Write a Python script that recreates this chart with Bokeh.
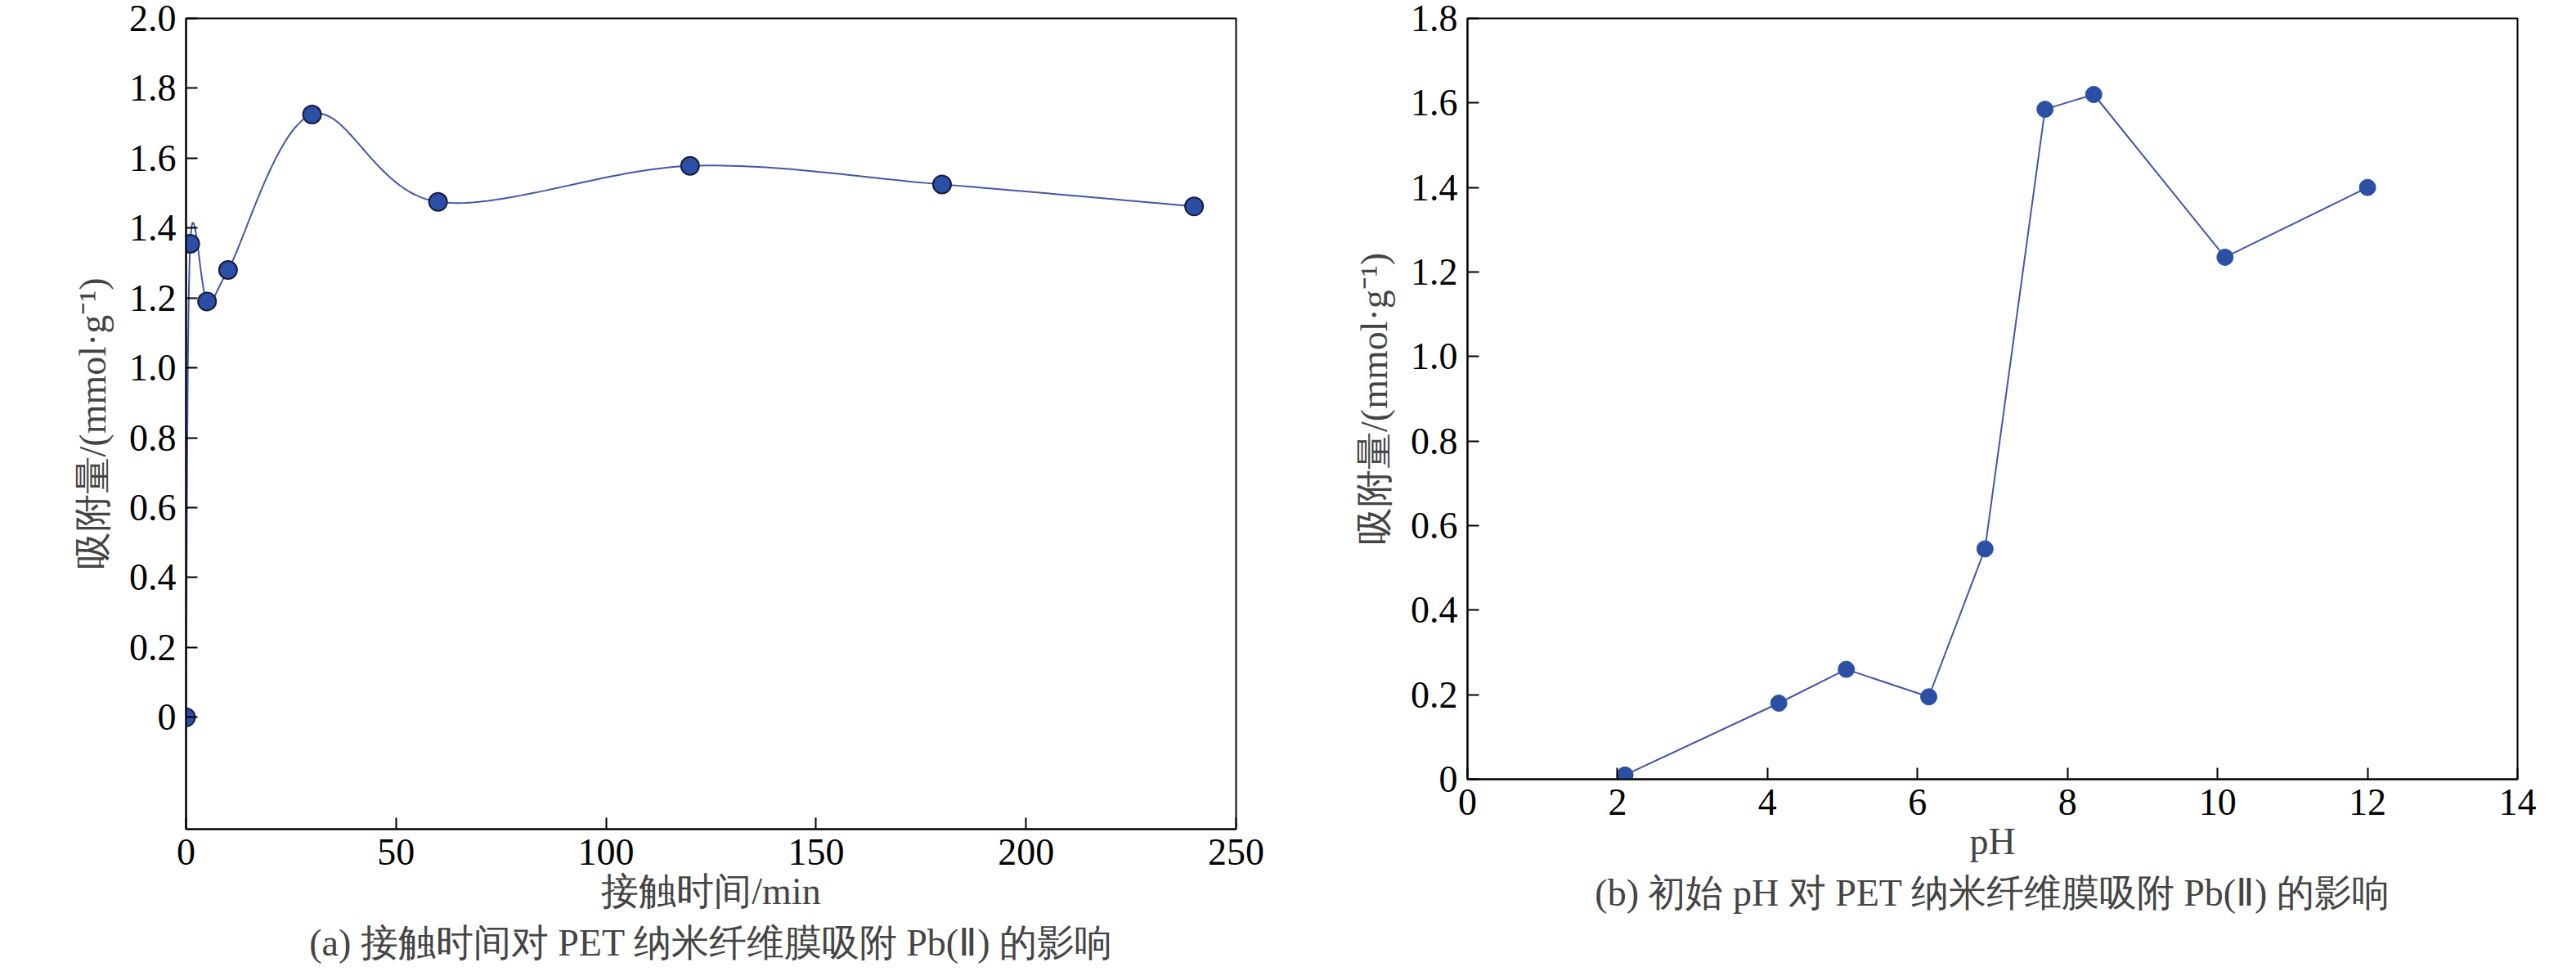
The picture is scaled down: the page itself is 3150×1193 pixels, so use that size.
import numpy as np
from bokeh.plotting import figure
from bokeh.layouts import row
from bokeh.models import FixedTicker, Range1d, Title
from bokeh.embed import file_html
from bokeh.resources import INLINE

t_min = [0, 1, 5, 10, 30, 60, 120, 180, 240]
q_t = [0.0, 1.355, 1.19, 1.28, 1.725, 1.475, 1.578, 1.525, 1.462]
ph = [2.1, 4.15, 5.05, 6.15, 6.9, 7.7, 8.35, 10.1, 12.0]
q_ph = [0.01, 0.18, 0.26, 0.195, 0.545, 1.585, 1.62, 1.235, 1.40]
yticks_a = [0, 0.2, 0.4, 0.6, 0.8, 1.0, 1.2, 1.4, 1.6, 1.8, 2.0]
yticks_b = [0, 0.2, 0.4, 0.6, 0.8, 1.0, 1.2, 1.4, 1.6, 1.8]

FONT = "Liberation Serif"
LINE = "#4058a8"
MARK = "#2c4fa6"

def smooth(x, y, n=30):
    x = np.asarray(x, float); y = np.asarray(y, float)
    xs, ys = [], []
    P = np.vstack([x, y]).T
    for i in range(len(P) - 1):
        p0 = P[i - 1] if i > 0 else P[i]
        p1, p2 = P[i], P[i + 1]
        p3 = P[i + 2] if i + 2 < len(P) else P[i + 1]
        for s in np.linspace(0, 1, n, endpoint=False):
            a = 0.5 * ((2 * p1) + (-p0 + p2) * s + (2 * p0 - 5 * p1 + 4 * p2 - p3) * s ** 2 + (-p0 + 3 * p1 - 3 * p2 + p3) * s ** 3)
            xs.append(a[0]); ys.append(a[1])
    xs.append(x[-1]); ys.append(y[-1])
    return xs, ys

def make(xr, yr, fw, fh, bb, xt, yt, xlabel, caption):
    p = figure(width=1567, height=1177, output_backend="svg", toolbar_location=None,
               x_range=Range1d(*xr), y_range=Range1d(*yr),
               frame_width=fw, frame_height=fh, min_border_left=227, min_border_top=22,
               min_border_right=56, min_border_bottom=bb)
    p.grid.visible = False
    p.outline_line_color = "black"
    p.outline_line_width = 2
    for ax in (p.xaxis, p.yaxis):
        ax.axis_line_width = 2
        ax.major_tick_in = 14
        ax.major_tick_out = 0
        ax.minor_tick_line_color = None
        ax.major_tick_line_width = 2
        ax.major_label_text_font = FONT
        ax.major_label_text_font_size = "46px"
        ax.major_label_text_color = "black"
        ax.axis_label_text_font = FONT
        ax.axis_label_text_font_size = "46px"
        ax.axis_label_text_font_style = "normal"
    p.xaxis.ticker = FixedTicker(ticks=xt)
    p.yaxis.ticker = FixedTicker(ticks=yt)
    p.yaxis.major_label_overrides = {v: ("0" if v == 0 else f"{v:.1f}") for v in yt}
    p.xaxis.major_label_standoff = 12
    p.yaxis.major_label_standoff = 12
    p.xaxis.axis_label = xlabel
    p.yaxis.axis_label = "吸附量/(mmol·g⁻¹)"
    p.xaxis.axis_label_standoff = 4
    p.yaxis.axis_label_standoff = 16
    cap = Title(text=caption, align="center", text_font=FONT, text_font_size="46px",
                text_font_style="normal", standoff=14)
    p.add_layout(cap, "below")
    return p

pa = make((0, 250), (-0.32, 2.0), 1284, 991, 162, [0, 50, 100, 150, 200, 250], yticks_a,
          "接触时间/min", "(a) 接触时间对 PET 纳米纤维膜吸附 Pb(Ⅱ) 的影响")
xs, ys = smooth(t_min, q_t)
pa.line(xs, ys, line_color=LINE, line_width=2)
pa.scatter(t_min, q_t, size=22, fill_color=MARK, line_color="#1a1a40", line_width=2)

pb = make((0, 14), (0, 1.8), 1284, 930, 223, [0, 2, 4, 6, 8, 10, 12, 14], yticks_b,
          "pH", "(b) 初始 pH 对 PET 纳米纤维膜吸附 Pb(Ⅱ) 的影响")
pb.line(ph, q_ph, line_color=LINE, line_width=2)
pb.scatter(ph, q_ph, size=20, fill_color=MARK, line_color=MARK)

lay = row(pa, pb)
open("out.html", "w").write(file_html(lay, INLINE))
